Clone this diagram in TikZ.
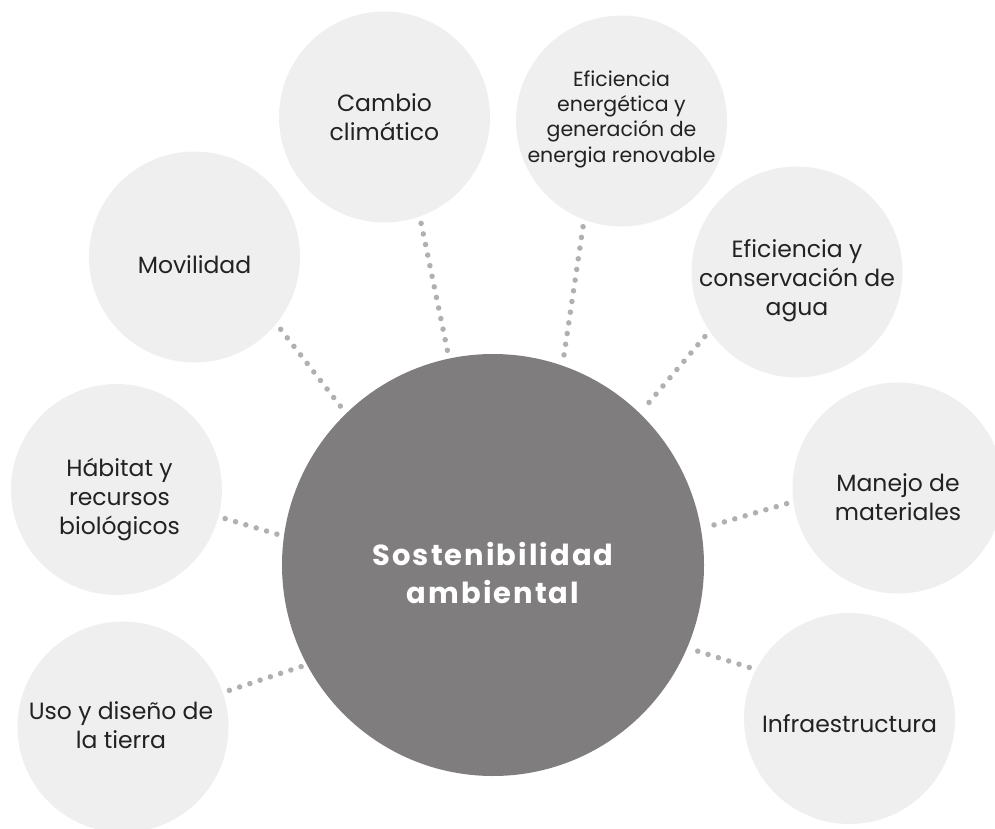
\documentclass[tikz,border=0pt]{standalone}
\usepackage{fontspec}
\setmainfont{Poppins}
\newfontfamily\titlefont[LetterSpace=7]{Poppins}
\definecolor{coregray}{RGB}{128,125,126}
\definecolor{topicgray}{RGB}{239,239,239}
\definecolor{dotgray}{RGB}{176,176,176}
\definecolor{textgray}{RGB}{34,34,34}

\begin{document}
\begin{tikzpicture}[x=1pt, y=-1pt,
  topic/.style={circle, fill=topicgray, minimum size=211pt, inner sep=0pt, outer sep=7pt},
  topictext/.style={align=center, text=textgray, font=\fontsize{23.5}{29}\selectfont},
  smalltext/.style={topictext, font=\fontsize{20.5}{25.3}\selectfont},
  core/.style={circle, fill=coregray, minimum size=422pt, inner sep=0pt, outer sep=4pt},
  coretext/.style={align=center, text=white, font=\titlefont\bfseries\fontsize{29}{38}\selectfont},
  link/.style={dotgray, line width=5.5pt, line cap=round, dash pattern=on 0pt off 10.8pt}]
  \useasboundingbox (0,0) rectangle (995,829);

  % Topics around the core
  \node[topic, label={[topictext, yshift=-8pt]center:{Movilidad}}] (mov) at (194.5,257) {};
  \node[topic, label={[topictext]center:{Cambio\\climático}}] (cam) at (384.5,117) {};
  \node[topic, label={[smalltext, yshift=2pt]center:{Eficiencia\\energética y\\generación de\\energia renovable}}] (ene) at (621.5,121) {};
  \node[topic, label={[topictext, yshift=-8.5pt]center:{Eficiencia y\\conservación de\\agua}}] (agu) at (797,272) {};
  \node[topic, label={[topictext, yshift=-9pt]center:{Manejo de\\materiales}}] (man) at (898,488) {};
  \node[topic, label={[topictext, yshift=-5pt]center:{Infraestructura}}] (inf) at (849.5,718.5) {};
  \node[topic, label={[topictext, xshift=3pt, yshift=-10pt]center:{Hábitat y\\recursos\\biológicos}}] (hab) at (116.5,489.5) {};
  \node[topic, label={[topictext, xshift=-2pt, yshift=2pt]center:{Uso y diseño de\\la tierra}}] (uso) at (123,727) {};

  % Core
  \node[core, label={[coretext, yshift=-8pt]center:{Sostenibilidad\\ambiental}}] (core) at (493,565) {};

  % Dotted links
  \draw[link] (mov.320.6) -- (core.134.2);
  \draw[link] (cam.289.3) -- (core.102.2);
  \draw[link] (ene.250.7) -- (core.71.6);
  \draw[link] (agu.215.8) -- (core.46.1);
  \draw[link] (man.188) -- (core.10);
  \draw[link] (inf.153.1) -- (core.337.5);
  \draw[link] (hab.345.7) -- (core.172);
  \draw[link] (uso.19.2) -- (core.208.4);
\end{tikzpicture}
\end{document}
